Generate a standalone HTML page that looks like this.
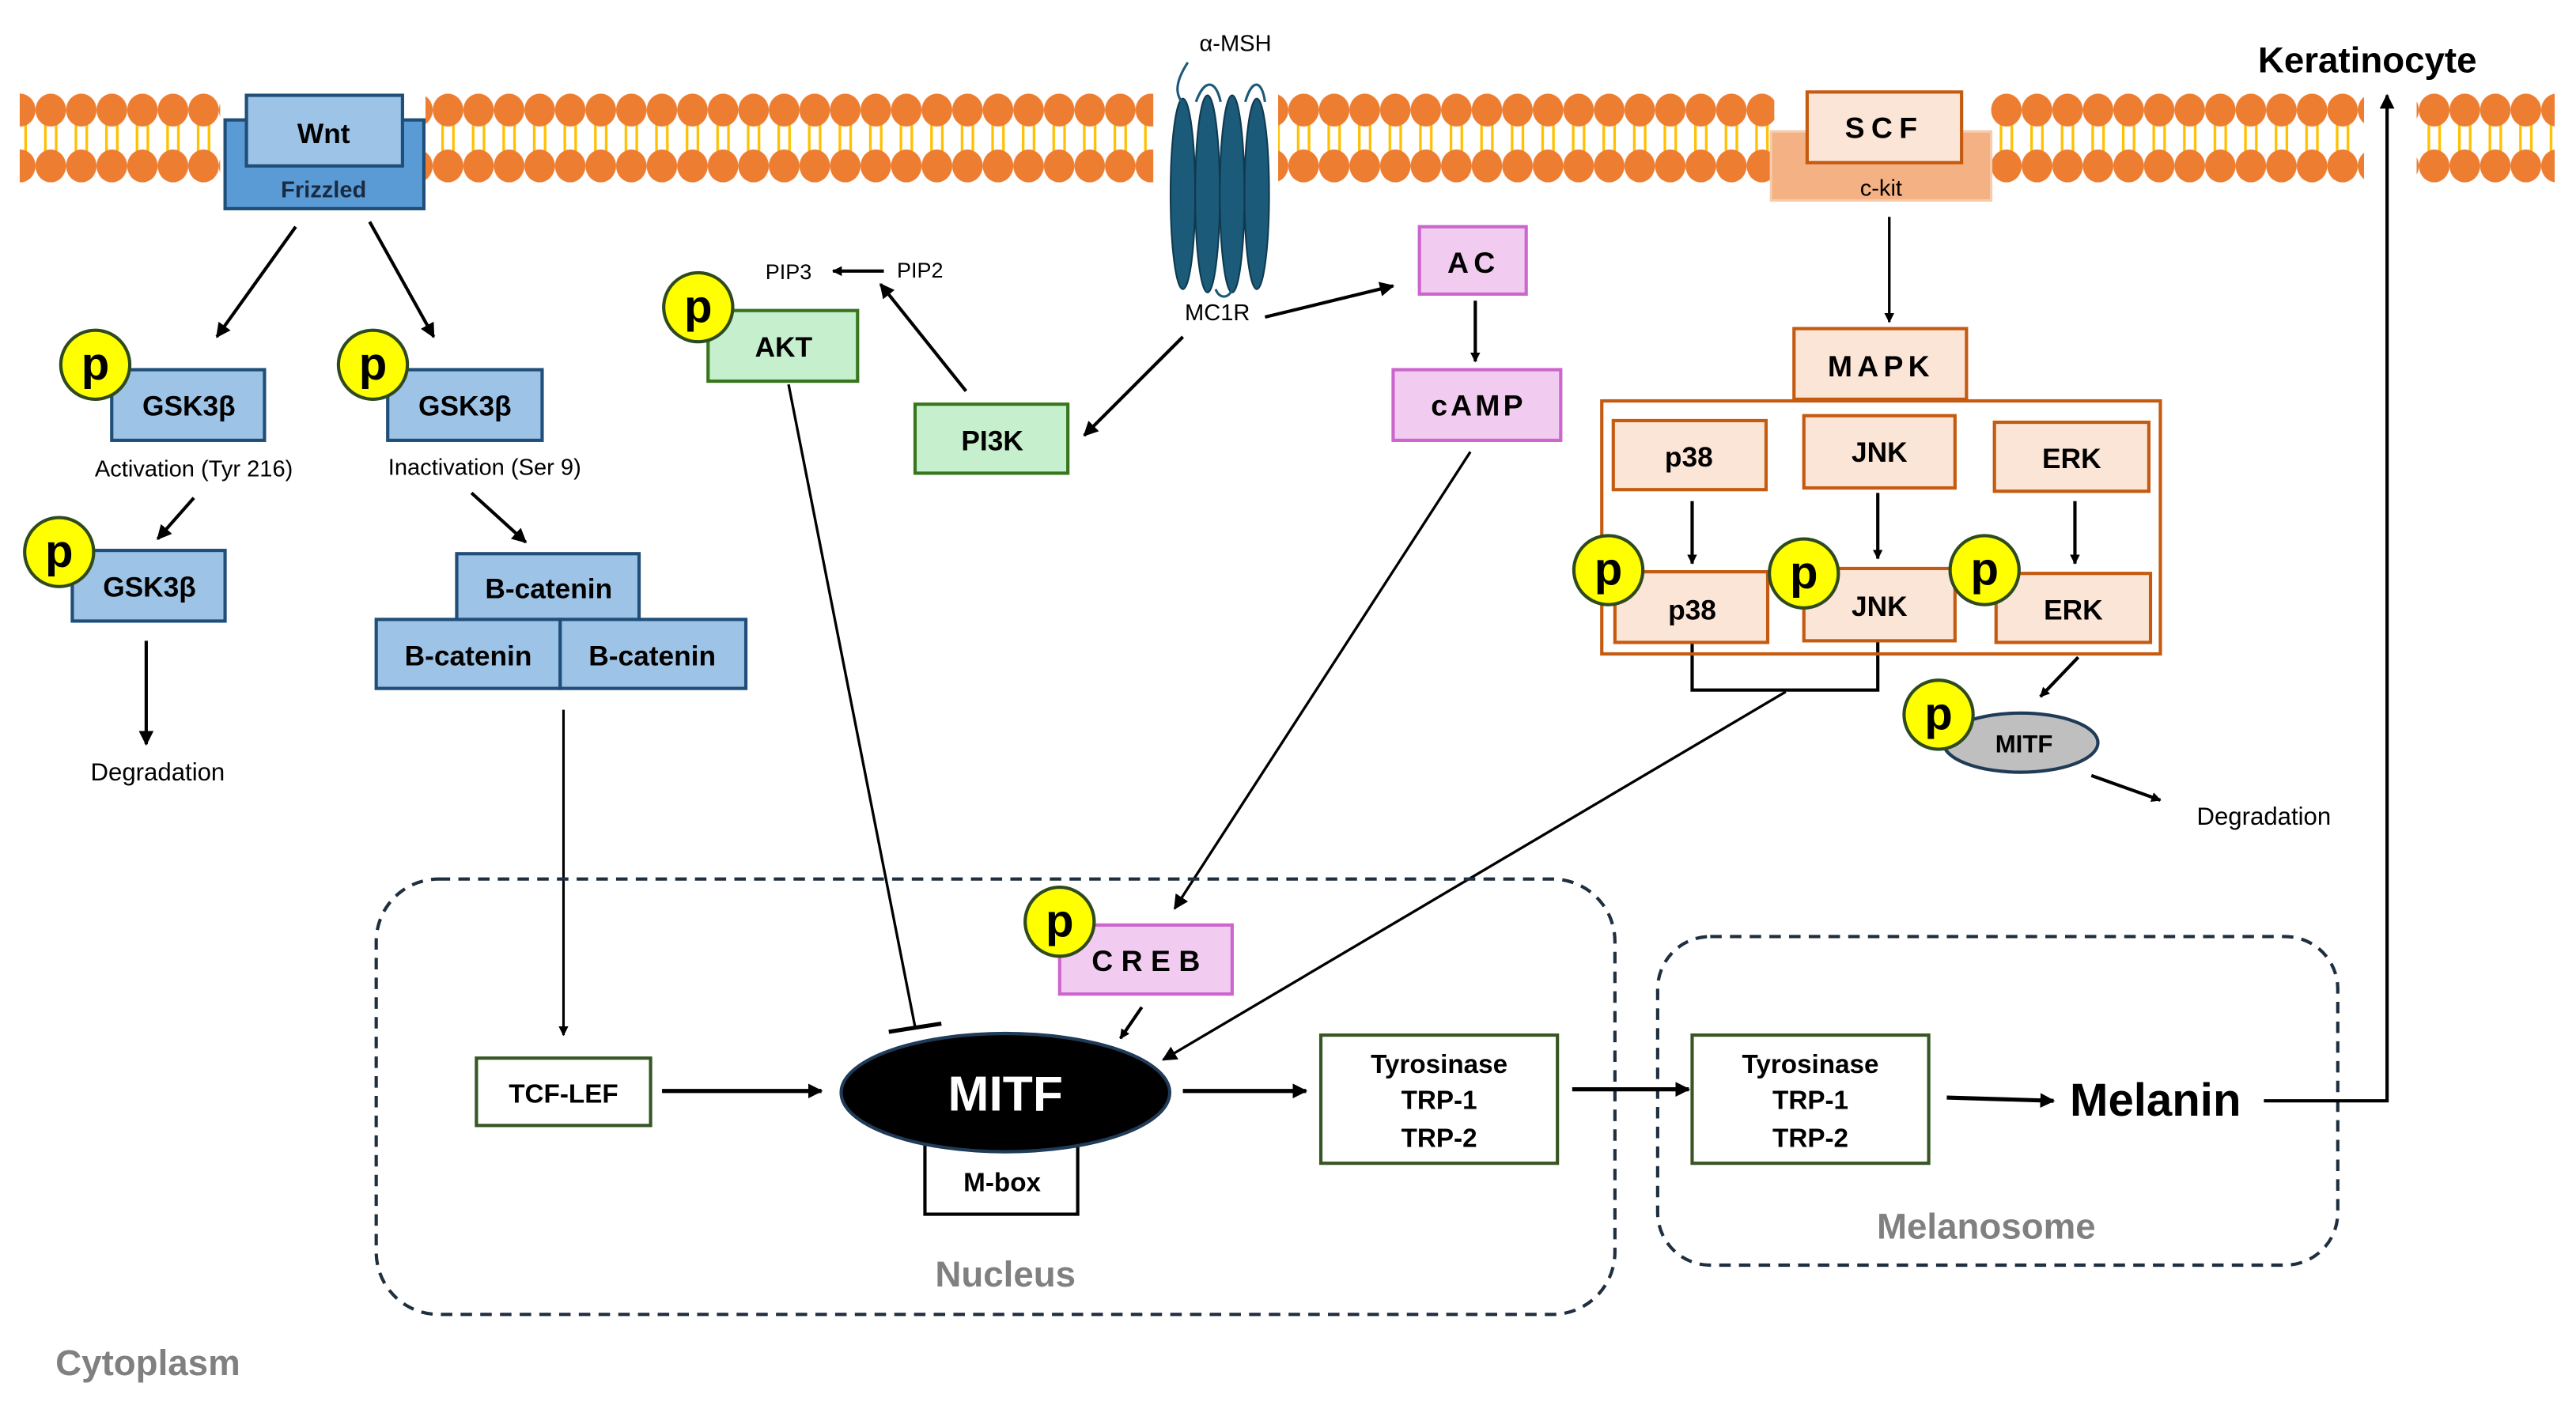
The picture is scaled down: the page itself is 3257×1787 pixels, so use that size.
<!DOCTYPE html>
<html><head><meta charset="utf-8"><style>
html,body{margin:0;padding:0;background:#fff}
svg{display:block}
text{font-family:"Liberation Sans",sans-serif}
</style></head><body>
<svg width="3257" height="1787" viewBox="0 0 1568 860" preserveAspectRatio="none" xmlns="http://www.w3.org/2000/svg">
<defs>
<pattern id="mem" patternUnits="userSpaceOnUse" x="3" y="55" width="18.6" height="60">
<line x1="6" y1="12" x2="6" y2="46" stroke="#FFC000" stroke-width="1.6"/>
<line x1="12.6" y1="12" x2="12.6" y2="46" stroke="#FFC000" stroke-width="1.6"/>
<ellipse cx="9.3" cy="12" rx="9.3" ry="10" fill="#ED7D31"/>
<ellipse cx="9.3" cy="46" rx="9.3" ry="10" fill="#ED7D31"/>
</pattern>
<marker id="ar" viewBox="0 0 10 10" refX="9" refY="5" markerWidth="6" markerHeight="6" orient="auto" markerUnits="userSpaceOnUse"><path d="M0,0 L10,5 L0,10 z" fill="#000"/></marker>
<marker id="arb" viewBox="0 0 10 10" refX="9" refY="5" markerWidth="9" markerHeight="9" orient="auto" markerUnits="userSpaceOnUse"><path d="M0,0 L10,5 L0,10 z" fill="#000"/></marker>
</defs>
<rect width="1568" height="860" fill="#fff"/>
<!-- membrane -->
<rect x="12" y="55" width="122" height="58" fill="url(#mem)"/>
<rect x="259" y="55" width="443" height="58" fill="url(#mem)"/>
<rect x="778" y="55" width="302" height="58" fill="url(#mem)"/>
<rect x="1212" y="55" width="227" height="58" fill="url(#mem)"/>
<rect x="1471" y="55" width="84" height="58" fill="url(#mem)"/>

<!-- Wnt / Frizzled -->
<rect x="137" y="73" width="121" height="54" fill="#5B9BD5" stroke="#1F4E79" stroke-width="2"/>
<rect x="150" y="58" width="95" height="43" fill="#9DC3E6" stroke="#1F4E79" stroke-width="2"/>
<text x="197" y="87" font-size="17" font-weight="bold" text-anchor="middle">Wnt</text>
<text x="197" y="120" font-size="14" font-weight="bold" text-anchor="middle" fill="#1a2a40">Frizzled</text>

<!-- MC1R -->
<g fill="#1B5A78" stroke="#0f3a50" stroke-width="1">
<ellipse cx="720" cy="118" rx="7.5" ry="58"/>
<ellipse cx="735" cy="118" rx="7.5" ry="60"/>
<ellipse cx="750" cy="118" rx="7.5" ry="60"/>
<ellipse cx="765" cy="118" rx="7.5" ry="58"/>
</g>
<path d="M723,38 C712,55 718,60 722,66 M728,62 C733,48 740,48 743,62 M758,62 C762,48 768,48 770,62 M740,176 C742,182 748,182 750,176" stroke="#1B5A78" stroke-width="1.5" fill="none"/>
<text x="752" y="31" font-size="14" text-anchor="middle">α-MSH</text>
<text x="741" y="195" font-size="14" text-anchor="middle">MC1R</text>

<!-- SCF / c-kit -->
<rect x="1078" y="80" width="134" height="42" fill="#F4B183" stroke="#F8CBAD" stroke-width="1.5"/>
<rect x="1100" y="56" width="94" height="43" fill="#FBE5D6" stroke="#C55A11" stroke-width="2"/>
<text x="1147" y="84" font-size="18" font-weight="bold" text-anchor="middle" letter-spacing="4">SCF</text>
<text x="1145" y="119" font-size="14" text-anchor="middle">c-kit</text>

<text x="1441" y="44" font-size="22" font-weight="bold" text-anchor="middle">Keratinocyte</text>

<!-- Wnt branch -->
<g stroke="#000" stroke-width="2" fill="none">
<line x1="180" y1="138" x2="132" y2="205" marker-end="url(#arb)"/>
<line x1="225" y1="135" x2="264" y2="205" marker-end="url(#arb)"/>
<line x1="118" y1="303" x2="96" y2="328" marker-end="url(#arb)"/>
<line x1="287" y1="300" x2="320" y2="330" marker-end="url(#arb)"/>
<line x1="89" y1="390" x2="89" y2="453" marker-end="url(#arb)"/>
<line x1="343" y1="432" x2="343" y2="630" stroke-width="1.5" marker-end="url(#ar)"/>
</g>
<g fill="#9DC3E6" stroke="#1F4E79" stroke-width="2">
<rect x="68" y="225" width="93" height="43"/>
<rect x="236" y="225" width="94" height="43"/>
<rect x="44" y="335" width="93" height="43"/>
<rect x="278" y="337" width="111" height="41"/>
<rect x="229" y="377" width="112" height="42"/>
<rect x="341" y="377" width="113" height="42"/>
</g>
<g font-size="17" font-weight="bold" text-anchor="middle">
<text x="115" y="253">GSK3β</text>
<text x="283" y="253">GSK3β</text>
<text x="91" y="363">GSK3β</text>
<text x="334" y="364">B-catenin</text>
<text x="285" y="405">B-catenin</text>
<text x="397" y="405">B-catenin</text>
</g>
<text x="118" y="290" font-size="14" text-anchor="middle">Activation (Tyr 216)</text>
<text x="295" y="289" font-size="14" text-anchor="middle">Inactivation (Ser 9)</text>
<text x="96" y="475" font-size="15" text-anchor="middle">Degradation</text>

<!-- PI3K / AKT -->
<rect x="431" y="189" width="91" height="43" fill="#C6EFCE" stroke="#38761D" stroke-width="2"/>
<text x="477" y="217" font-size="17" font-weight="bold" text-anchor="middle">AKT</text>
<rect x="557" y="246" width="93" height="42" fill="#C6EFCE" stroke="#38761D" stroke-width="2"/>
<text x="604" y="274" font-size="17" font-weight="bold" text-anchor="middle">PI3K</text>
<text x="480" y="170" font-size="13" text-anchor="middle">PIP3</text>
<text x="560" y="169" font-size="13" text-anchor="middle">PIP2</text>
<g stroke="#000" stroke-width="2" fill="none">
<line x1="538" y1="165" x2="507" y2="165" marker-end="url(#ar)"/>
<line x1="588" y1="238" x2="536" y2="173" marker-end="url(#arb)"/>
<line x1="720" y1="205" x2="660" y2="265" marker-end="url(#arb)"/>
<line x1="770" y1="193" x2="848" y2="174" marker-end="url(#arb)"/>
<line x1="480" y1="234" x2="557" y2="625" stroke-width="1.6"/>
<line x1="541" y1="628" x2="573" y2="623" stroke-width="2.5"/>
<line x1="898" y1="183" x2="898" y2="220" marker-end="url(#ar)"/>
<line x1="895" y1="275" x2="715" y2="553" stroke-width="1.6" marker-end="url(#arb)"/>
<line x1="695" y1="613" x2="682" y2="632" marker-end="url(#ar)"/>
<line x1="1087" y1="421" x2="708" y2="645" stroke-width="1.6" marker-end="url(#arb)"/>
</g>
<!-- AC/cAMP/CREB -->
<g fill="#F2CCF0" stroke="#CC66CC" stroke-width="2">
<rect x="864" y="138" width="65" height="41"/>
<rect x="848" y="225" width="102" height="43"/>
<rect x="645" y="563" width="105" height="42"/>
</g>
<text x="897" y="166" font-size="18" font-weight="bold" text-anchor="middle" letter-spacing="3">AC</text>
<text x="900" y="253" font-size="18" font-weight="bold" text-anchor="middle" letter-spacing="2">cAMP</text>
<text x="700" y="591" font-size="18" font-weight="bold" text-anchor="middle" letter-spacing="5">CREB</text>

<!-- MAPK -->
<g stroke="#000" stroke-width="2" fill="none">
<line x1="1150" y1="132" x2="1150" y2="196" stroke-width="1.6" marker-end="url(#ar)"/>
<line x1="1030" y1="305" x2="1030" y2="343" marker-end="url(#ar)"/>
<line x1="1143" y1="300" x2="1143" y2="340" marker-end="url(#ar)"/>
<line x1="1263" y1="305" x2="1263" y2="343" marker-end="url(#ar)"/>
<polyline points="1030,392 1030,420 1143,420 1143,390"/>
<line x1="1265" y1="400" x2="1242" y2="424" marker-end="url(#ar)"/>
<line x1="1273" y1="472" x2="1315" y2="487" marker-end="url(#ar)"/>
</g>
<rect x="975" y="244" width="340" height="154" fill="none" stroke="#C55A11" stroke-width="2"/>
<g fill="#FBE5D6" stroke="#C55A11" stroke-width="2">
<rect x="1092" y="200" width="105" height="43"/>
<rect x="982" y="256" width="93" height="42"/>
<rect x="1098" y="253" width="92" height="44"/>
<rect x="1214" y="257" width="94" height="42"/>
<rect x="983" y="348" width="93" height="43"/>
<rect x="1098" y="346" width="92" height="44"/>
<rect x="1215" y="349" width="94" height="42"/>
</g>
<g font-size="17" font-weight="bold" text-anchor="middle">
<text x="1145" y="229" font-size="18" letter-spacing="3">MAPK</text>
<text x="1028" y="284">p38</text>
<text x="1144" y="281">JNK</text>
<text x="1261" y="285">ERK</text>
<text x="1030" y="377">p38</text>
<text x="1144" y="375">JNK</text>
<text x="1262" y="377">ERK</text>
</g>
<ellipse cx="1230" cy="452" rx="47" ry="18" fill="#BFBFBF" stroke="#1F3B57" stroke-width="2"/>
<text x="1232" y="458" font-size="15" font-weight="bold" text-anchor="middle">MITF</text>
<text x="1378" y="502" font-size="15" text-anchor="middle">Degradation</text>

<!-- p circles -->
<g fill="#FFFF00" stroke="#2e4a1e" stroke-width="2">
<circle cx="58" cy="222" r="21"/><circle cx="227" cy="222" r="21"/><circle cx="36" cy="336" r="21"/>
<circle cx="425" cy="187" r="21"/><circle cx="645" cy="561" r="21"/>
<circle cx="979" cy="347" r="21"/><circle cx="1098" cy="349" r="21"/><circle cx="1208" cy="347" r="21"/>
<circle cx="1180" cy="435" r="21"/>
</g>
<g font-size="28" font-weight="bold" text-anchor="middle">
<text x="58" y="231">p</text><text x="227" y="231">p</text><text x="36" y="345">p</text>
<text x="425" y="196">p</text><text x="645" y="570">p</text>
<text x="979" y="356">p</text><text x="1098" y="358">p</text><text x="1208" y="356">p</text>
<text x="1180" y="444">p</text>
</g>

<!-- Nucleus / Melanosome -->
<rect x="229" y="535" width="754" height="265" rx="38" fill="none" stroke="#1f2f3f" stroke-width="2" stroke-dasharray="7,5"/>
<rect x="1009" y="570" width="414" height="200" rx="32" fill="none" stroke="#1f2f3f" stroke-width="2" stroke-dasharray="7,5"/>
<text x="612" y="783" font-size="22" font-weight="bold" fill="#808080" text-anchor="middle">Nucleus</text>
<text x="1209" y="754" font-size="22" font-weight="bold" fill="#808080" text-anchor="middle">Melanosome</text>
<text x="90" y="837" font-size="22" font-weight="bold" fill="#808080" text-anchor="middle">Cytoplasm</text>

<rect x="290" y="644" width="106" height="41" fill="#fff" stroke="#375623" stroke-width="2"/>
<text x="343" y="671" font-size="16" font-weight="bold" text-anchor="middle">TCF-LEF</text>
<rect x="563" y="690" width="93" height="49" fill="#fff" stroke="#000" stroke-width="2"/>
<text x="610" y="725" font-size="16" font-weight="bold" text-anchor="middle">M-box</text>
<ellipse cx="612" cy="665" rx="100" ry="36" fill="#000" stroke="#1F3B57" stroke-width="2"/>
<text x="612" y="676" font-size="30" font-weight="bold" fill="#fff" text-anchor="middle">MITF</text>
<g fill="#fff" stroke="#375623" stroke-width="2">
<rect x="804" y="630" width="144" height="78"/>
<rect x="1030" y="630" width="144" height="78"/>
</g>
<g font-size="16" font-weight="bold" text-anchor="middle">
<text x="876" y="653">Tyrosinase</text><text x="876" y="675">TRP-1</text><text x="876" y="698">TRP-2</text>
<text x="1102" y="653">Tyrosinase</text><text x="1102" y="675">TRP-1</text><text x="1102" y="698">TRP-2</text>
</g>
<text x="1312" y="679" font-size="28" font-weight="bold" text-anchor="middle">Melanin</text>
<g stroke="#000" stroke-width="2.5" fill="none">
<line x1="403" y1="664" x2="500" y2="664" marker-end="url(#arb)"/>
<line x1="720" y1="664" x2="795" y2="664" marker-end="url(#arb)"/>
<line x1="957" y1="663" x2="1028" y2="663" marker-end="url(#arb)"/>
<line x1="1185" y1="668" x2="1250" y2="670" marker-end="url(#arb)"/>
<polyline points="1378,670 1453,670 1453,58" stroke-width="2" marker-end="url(#arb)"/>
</g>
</svg>
</body></html>
